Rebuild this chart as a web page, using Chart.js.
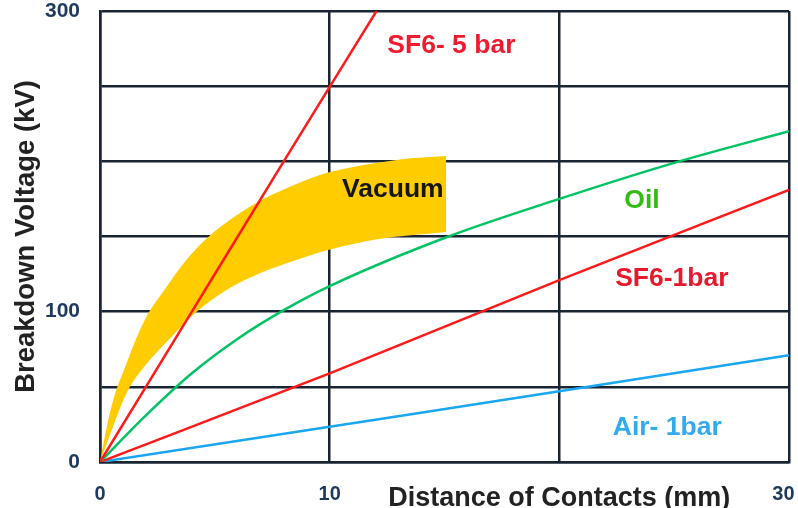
<!DOCTYPE html>
<html>
<head>
<script src="https://cdn.jsdelivr.net/npm/chart.js@4.4.0/dist/chart.umd.min.js"></script>
<style>
  html, body { margin: 0; padding: 0; background: #fff; }
</style>
</head>
<body>
<canvas id="myChart" width="798" height="508"></canvas>
<script>
// readings: distance (mm) -> breakdown voltage (kV)
var sf6_5bar_x = [0, 4, 8, 12.04];
var sf6_5bar_y = [0, 100, 200, 300];

var oil_x = [0, 2, 4, 6, 8, 10, 15, 20, 25, 30];
var oil_y = [0, 31, 59, 82, 101, 117, 149, 175, 199, 220];

var sf6_1bar_x = [0, 10, 20, 30];
var sf6_1bar_y = [0, 59, 121, 181];

var air_x = [0, 10, 20, 30];
var air_y = [0, 23.5, 47, 71];

// vacuum band, upper and lower edges
var vacTop_x = [0, 0.36, 0.65, 1.09, 1.52, 2.0, 2.83, 3.55, 4.57, 5.87, 7.03, 8.48, 9.93, 13, 15.07];
var vacTop_y = [0, 28, 45, 63, 80, 96, 115, 130.4, 147.7, 163.3, 174.3, 184.5, 192.5, 201.1, 203.5];
var vacLow_x = [0, 0.36, 0.8, 1.23, 1.96, 2.97, 4.13, 5.58, 7.03, 8.48, 9.93, 12, 15.07];
var vacLow_y = [0, 15, 33, 48, 64, 81, 99, 115, 126, 134, 141, 148, 153];

var xTicks = [0, 10, 20, 30];
var yLabelled = [0, 100, 300];
var xTitle = "Distance of Contacts (mm)";
var yTitle = "Breakdown Voltage (kV)";

var noteText = ["SF6- 5 bar", "Vacuum", "Oil", "SF6-1bar", "Air- 1bar"];
var noteX = [15.3, 12.75, 23.6, 24.9, 24.7];
var noteY = [277, 181, 174, 122, 22.6];
var noteColor = ["#ee1c2e", "#161616", "#33bb14", "#e8192c", "#33aaee"];

function pts(xs, ys) {
  var out = [];
  for (var i = 0; i < xs.length; i++) out.push({ x: xs[i], y: ys[i] });
  return out;
}

var FAM = "'Liberation Sans', Arial, sans-serif";
var GRID = "#1a2533";

var notesPlugin = {
  id: "notes",
  afterDatasetsDraw: function (chart) {
    var ctx = chart.ctx, sx = chart.scales.x, sy = chart.scales.y;
    ctx.save();
    ctx.font = "bold 26.5px " + FAM;
    ctx.textAlign = "center";
    ctx.textBaseline = "middle";
    for (var i = 0; i < noteText.length; i++) {
      ctx.fillStyle = noteColor[i];
      ctx.fillText(noteText[i], sx.getPixelForValue(noteX[i]), sy.getPixelForValue(noteY[i]));
    }
    ctx.restore();
  }
};

function lineSet(xs, ys, color) {
  return {
    data: pts(xs, ys),
    borderColor: color,
    borderWidth: 2.5,
    pointRadius: 0,
    fill: false,
    cubicInterpolationMode: "monotone",
    order: 1
  };
}

new Chart("myChart", {
  type: "line",
  data: {
    datasets: [
      {
        data: pts(vacTop_x, vacTop_y),
        borderWidth: 0,
        borderColor: "#ffcc00",
        backgroundColor: "#ffcc00",
        pointRadius: 0,
        fill: "+1",
        cubicInterpolationMode: "monotone",
        order: 5
      },
      {
        data: pts(vacLow_x, vacLow_y),
        borderWidth: 0,
        borderColor: "#ffcc00",
        pointRadius: 0,
        fill: false,
        cubicInterpolationMode: "monotone",
        order: 6
      },
      lineSet(sf6_5bar_x, sf6_5bar_y, "#ff1a1a"),
      lineSet(oil_x, oil_y, "#00c463"),
      lineSet(sf6_1bar_x, sf6_1bar_y, "#ff1a1a"),
      lineSet(air_x, air_y, "#1aa6f0")
    ]
  },
  options: {
    responsive: false,
    animation: false,
    layout: { padding: { top: 11, right: 9, left: 0, bottom: 0 } },
    plugins: { legend: { display: false }, tooltip: { enabled: false } },
    scales: {
      x: {
        type: "linear",
        min: 0, max: 30,
        afterBuildTicks: function (scale) {
          scale.ticks = xTicks.map(function (v) { return { value: v }; });
        },
        afterFit: function (scale) {
          scale.height = 46;
          scale.paddingLeft = 0;
          scale.paddingRight = 0;
        },
        grid: { color: GRID, lineWidth: 2.5, drawTicks: false },
        border: { color: GRID, width: 2.5 },
        ticks: {
          autoSkip: false,
          maxRotation: 0,
          padding: 20,
          callback: function (v) { return v === 20 ? xTitle : (v === 30 ? "30  " : String(v)); },
          font: function (c) {
            if (c.tick && c.tick.value === 20) return { family: FAM, size: 27, weight: "bold" };
            return { family: FAM, size: 20, weight: "bold" };
          },
          color: function (c) {
            return c.tick && c.tick.value === 20 ? "#222222" : "#1f3a5f";
          }
        }
      },
      y: {
        min: 0, max: 300,
        afterFit: function (scale) {
          scale.width = 100;
          scale.paddingTop = 0;
          scale.paddingBottom = 0;
        },
        grid: { color: GRID, lineWidth: 2.5, drawTicks: false },
        border: { color: GRID, width: 2.5 },
        ticks: {
          stepSize: 50,
          padding: 20,
          font: { family: FAM, size: 21, weight: "bold" },
          color: "#1f3a5f",
          callback: function (v) { return yLabelled.indexOf(v) >= 0 ? String(v) : ""; }
        },
        title: {
          display: true,
          text: yTitle,
          color: "#222222",
          font: { family: FAM, size: 27.5, weight: "bold" },
          padding: { top: 10, bottom: 0 }
        }
      }
    }
  },
  plugins: [notesPlugin]
});
</script>
</body>
</html>
